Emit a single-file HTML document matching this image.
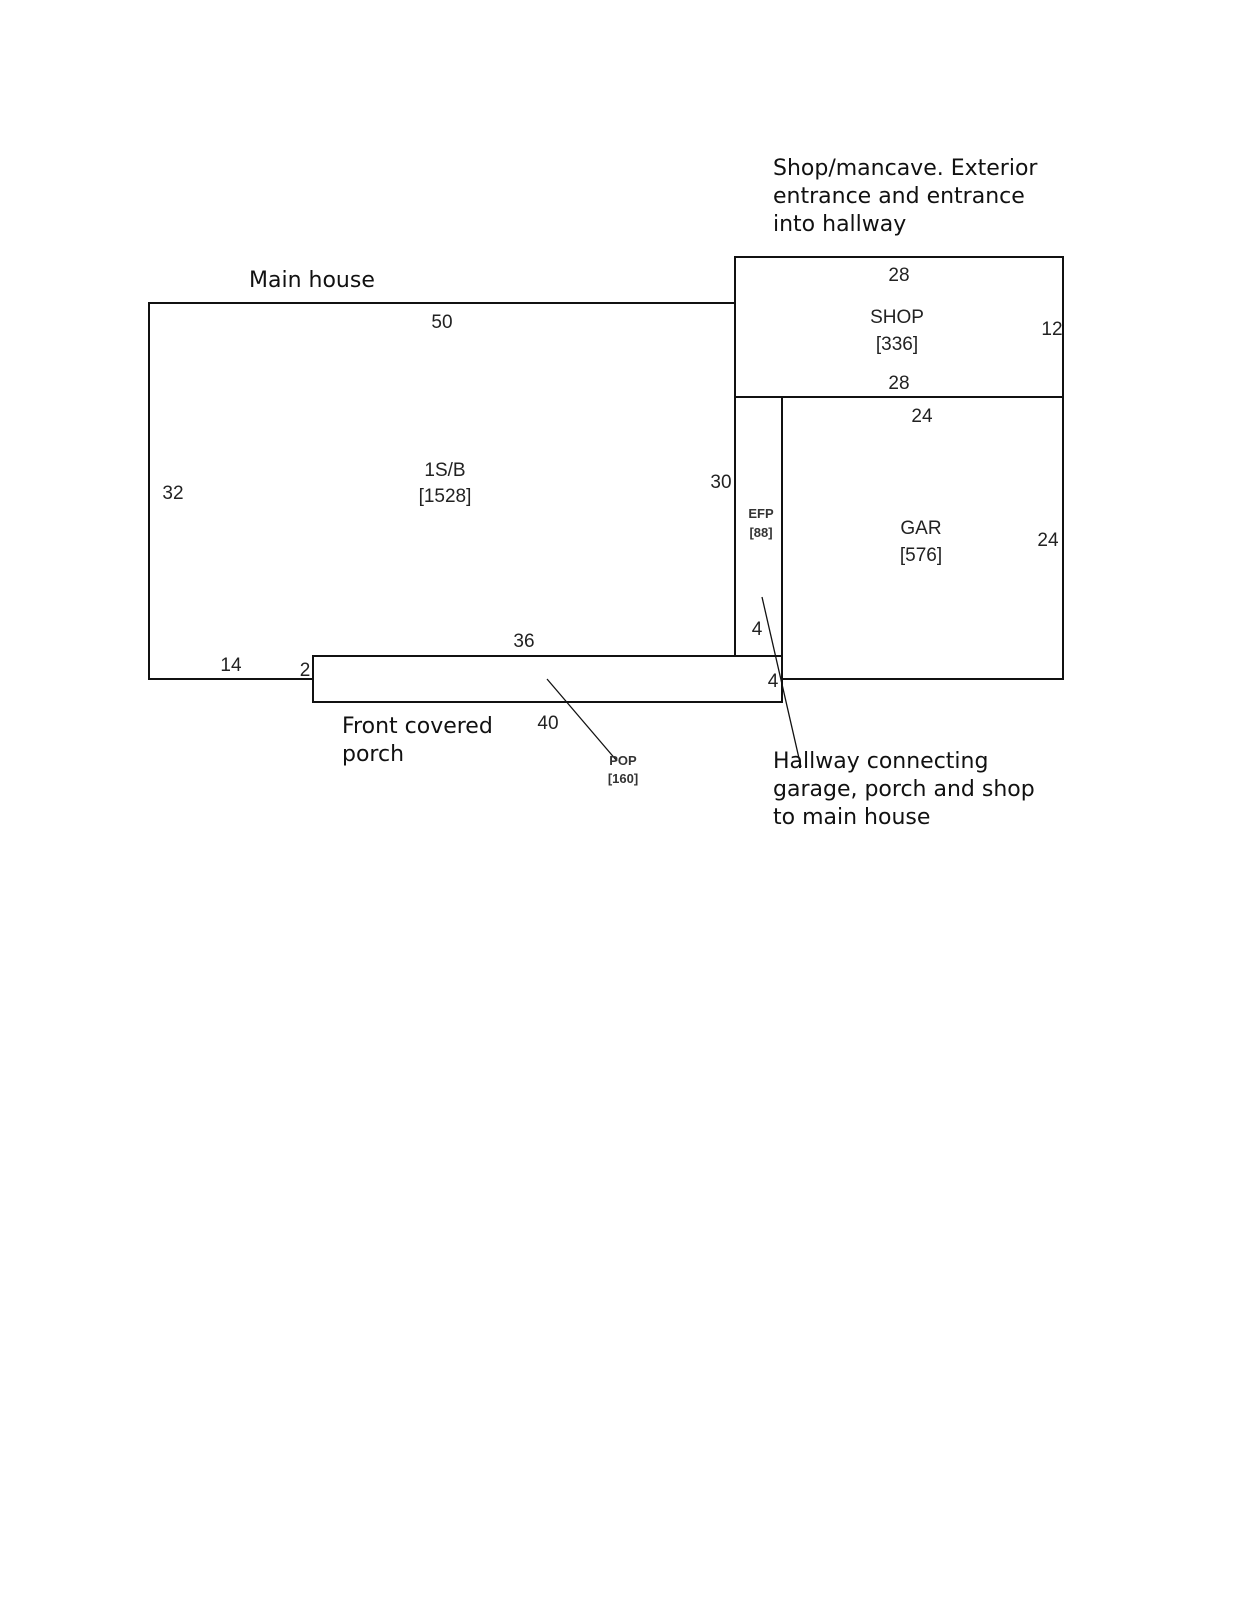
<!DOCTYPE html>
<html><head><meta charset="utf-8"><style>
html,body{margin:0;padding:0;background:#fff;}
svg{display:block;}
.d{font-family:"Liberation Sans",sans-serif;font-size:19px;fill:#222;}
.s{font-family:"Liberation Sans",sans-serif;font-size:13px;font-weight:bold;fill:#333;}
.n{font-family:"DejaVu Sans","Liberation Sans",sans-serif;font-size:22px;fill:#111;}
</style></head><body>
<svg width="1236" height="1600" viewBox="0 0 1236 1600" xmlns="http://www.w3.org/2000/svg">
<g fill="none" stroke="#111" stroke-width="2">
<polyline points="313,679 149,679 149,303 735,303"/>
<rect x="735" y="257" width="328" height="140"/>
<polyline points="782,397 782,679 1063,679 1063,397"/>
<line x1="735" y1="303" x2="735" y2="656"/>
<rect x="313" y="656" width="469" height="46"/>
</g>
<g stroke="#111" stroke-width="1.3">
<line x1="762" y1="597" x2="801" y2="767"/>
<line x1="547" y1="679" x2="617" y2="761"/>
</g>
<text class="d" x="442" y="328" text-anchor="middle">50</text>
<text class="d" x="173" y="499" text-anchor="middle">32</text>
<text class="d" x="445" y="476" text-anchor="middle">1S/B</text>
<text class="d" x="445" y="502" text-anchor="middle">[1528]</text>
<text class="d" x="721" y="488" text-anchor="middle">30</text>
<text class="d" x="524" y="647" text-anchor="middle">36</text>
<text class="d" x="231" y="671" text-anchor="middle">14</text>
<text class="d" x="305" y="676" text-anchor="middle">2</text>
<text class="d" x="548" y="729" text-anchor="middle">40</text>
<text class="d" x="757" y="635" text-anchor="middle">4</text>
<text class="d" x="773" y="687" text-anchor="middle">4</text>
<text class="d" x="899" y="281" text-anchor="middle">28</text>
<text class="d" x="897" y="323" text-anchor="middle">SHOP</text>
<text class="d" x="897" y="350" text-anchor="middle">[336]</text>
<text class="d" x="1052" y="335" text-anchor="middle">12</text>
<text class="d" x="899" y="389" text-anchor="middle">28</text>
<text class="d" x="922" y="422" text-anchor="middle">24</text>
<text class="d" x="921" y="534" text-anchor="middle">GAR</text>
<text class="d" x="921" y="561" text-anchor="middle">[576]</text>
<text class="d" x="1048" y="546" text-anchor="middle">24</text>
<text class="s" x="761" y="518" text-anchor="middle">EFP</text>
<text class="s" x="761" y="537" text-anchor="middle">[88]</text>
<text class="s" x="623" y="765" text-anchor="middle">POP</text>
<text class="s" x="623" y="783" text-anchor="middle">[160]</text>
<text class="n" x="249" y="287">Main house</text>
<text class="n" x="773" y="175">Shop/mancave. Exterior</text>
<text class="n" x="773" y="203">entrance and entrance</text>
<text class="n" x="773" y="231">into hallway</text>
<text class="n" x="342" y="733">Front covered</text>
<text class="n" x="342" y="761">porch</text>
<text class="n" x="773" y="768">Hallway connecting</text>
<text class="n" x="773" y="796">garage, porch and shop</text>
<text class="n" x="773" y="824">to main house</text>
</svg>
</body></html>
